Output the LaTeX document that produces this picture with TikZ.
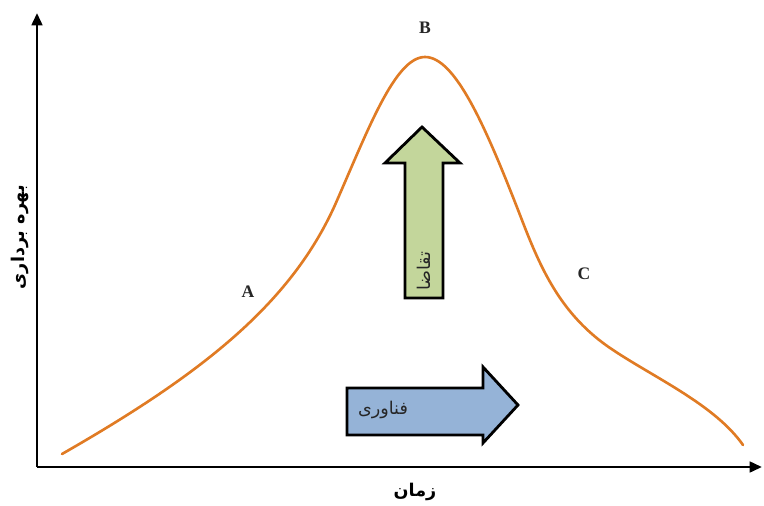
\documentclass[tikz,border=0pt]{standalone}
\usepackage{fontspec}
\setmainfont{Liberation Serif}
\newfontfamily\fafont[Script=Arabic]{DejaVu Sans}
\TeXXeTstate=1
\usepackage{xcolor}
\definecolor{curveorange}{HTML}{E07B24}
\definecolor{demandgreen}{HTML}{C3D69B}
\definecolor{techblue}{HTML}{95B3D7}
\usepackage{tikz}
\usetikzlibrary{arrows.meta}

\begin{document}
\begin{tikzpicture}[
  x=0.02cm, y=0.02cm,
  axis/.style={draw=black, line width=1.6pt, -{Triangle[length=7pt,width=6pt]}},
  lifecurve/.style={draw=curveorange, line width=1.5pt, line cap=round},
  pointlbl/.style={font=\bfseries\normalsize, text=black!85},
  blockarrow/.style={draw=black, line width=1.6pt, line join=miter},
  falbl/.style={font=\fafont\normalsize, text=black!85, inner sep=1pt},
  axislbl/.style={font=\fafont\bfseries, text=black, inner sep=1pt},
]

% === CANVAS ===
\useasboundingbox (0,0) rectangle (764,505);

% === AXES ===
\coordinate (origin) at (37,38);
\coordinate (ytop) at (37,492);
\coordinate (xend) at (762,38);
\draw[axis] (origin) -- (ytop);
\draw[axis] (origin) -- (xend);

% === LIFE CYCLE CURVE ===
\coordinate (cstart) at (62,51);
\coordinate (cpeak) at (425,448);
\coordinate (cend) at (743,60);
\draw[lifecurve] (cstart)
  .. controls (200,130) and (290,200) .. (335,300)
  .. controls (368,375) and (395,448) .. (cpeak)
  .. controls (455,448) and (485,380) .. (520,290)
  .. controls (540,238) and (560,190) .. (613,155)
  .. controls (655,127) and (715,100) .. (cend);

% === STAGE LABELS ===
\node[pointlbl] (stA) at (248,213) {A};
\node[pointlbl] (stB) at (425,477) {B};
\node[pointlbl] (stC) at (584,231) {C};

% === DEMAND ARROW (UP) ===
\filldraw[blockarrow, fill=demandgreen]
  (405,207) -- (405,342) -- (385,342) -- (422,378) -- (460,342)
  -- (443,342) -- (443,207) -- cycle;
\node[falbl, rotate=90] (demand) at (424,234) {\beginR تقاضا\endR};

% === TECHNOLOGY ARROW (RIGHT) ===
\filldraw[blockarrow, fill=techblue]
  (347,117) -- (483,117) -- (483,138) -- (518,100) -- (483,62)
  -- (483,70) -- (347,70) -- cycle;
\node[falbl] (tech) at (383,95) {\beginR فناوری\endR};

% === AXIS LABELS ===
\node[axislbl, rotate=90] (ylbl) at (20,268) {\beginR بهره برداری\endR};
\node[axislbl] (xlbl) at (415,13) {\beginR زمان\endR};

\end{tikzpicture}
\end{document}
